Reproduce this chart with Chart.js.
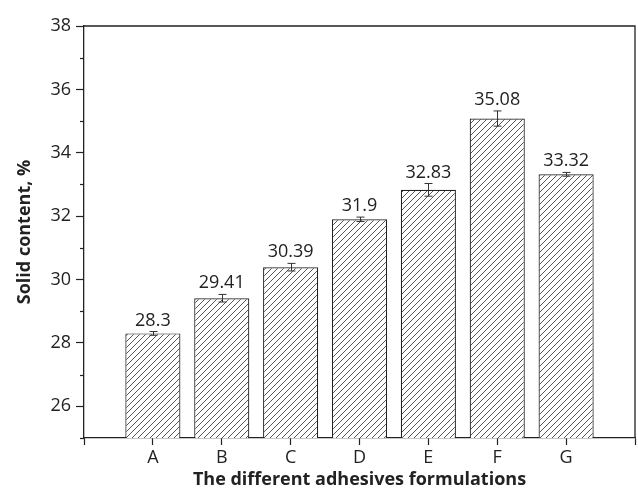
<!DOCTYPE html>
<html>
<head>
<meta charset="utf-8">
<script src="https://cdn.jsdelivr.net/npm/chart.js@4.4.1/dist/chart.umd.min.js"></script>
<style>
  html, body { margin: 0; padding: 0; background: #fff; }
  #wrap { width: 638px; height: 491px; }
</style>
</head>
<body>
<div id="wrap"><canvas id="c" width="638" height="491"></canvas></div>
<script>
// Formulations and their measured solid content (%), with standard deviations
const categories = ['A', 'B', 'C', 'D', 'E', 'F', 'G'];
const solidContent = [28.3, 29.41, 30.39, 31.9, 32.83, 35.08, 33.32];
const stdDev = [0.06, 0.12, 0.12, 0.07, 0.2, 0.24, 0.06];
const yRange = [25, 38];
const yLabelledTicks = [26, 28, 30, 32, 34, 36, 38];

const FONT = '"Open Sans", "DejaVu Sans", sans-serif';
const INK = '#222';

const canvas = document.getElementById('c');
const ctx = canvas.getContext('2d');

// Diagonal "/" hatch fill for the bars
function makeHatch() {
  const s = 6;
  const t = document.createElement('canvas');
  t.width = s; t.height = s;
  const g = t.getContext('2d');
  g.fillStyle = '#fff';
  g.fillRect(0, 0, s, s);
  g.strokeStyle = '#444';
  g.lineWidth = 0.9;
  g.beginPath();
  g.moveTo(-1, s + 1); g.lineTo(s + 1, -1);
  g.moveTo(-1, 1); g.lineTo(1, -1);
  g.moveTo(s - 1, s + 1); g.lineTo(s + 1, s - 1);
  g.stroke();
  return ctx.createPattern(t, 'repeat');
}

const points = categories.map((c, i) => ({ x: i + 1, y: solidContent[i] }));

// Error bars, value labels, minor ticks and the top/right frame
const decorations = {
  id: 'decorations',
  afterDatasetsDraw(chart) {
    const c = chart.ctx;
    const ys = chart.scales.y;
    const meta = chart.getDatasetMeta(0);
    c.save();
    c.strokeStyle = '#333';
    c.lineWidth = 1;
    meta.data.forEach((bar, i) => {
      const v = solidContent[i], e = stdDev[i];
      const x = Math.round(bar.x) + 0.5;
      const yt = ys.getPixelForValue(v + e);
      const yb = ys.getPixelForValue(v - e);
      c.beginPath();
      c.moveTo(x, yt); c.lineTo(x, yb);
      c.moveTo(x - 4, yt); c.lineTo(x + 4, yt);
      c.moveTo(x - 4, yb); c.lineTo(x + 4, yb);
      c.stroke();
      c.fillStyle = INK;
      c.font = '18px ' + FONT;
      c.textAlign = 'center';
      c.textBaseline = 'alphabetic';
      c.fillText(String(v), bar.x, yt - 6);
    });
    c.restore();
  },
  afterDraw(chart) {
    const c = chart.ctx;
    const a = chart.chartArea;
    const ys = chart.scales.y;
    c.save();
    c.strokeStyle = INK;
    c.lineWidth = 1.3;
    c.beginPath();
    c.moveTo(a.left, a.top); c.lineTo(a.right, a.top); c.lineTo(a.right, a.bottom);
    c.stroke();
    // minor ticks at odd values
    c.lineWidth = 1.2;
    for (let v = yRange[0]; v <= yRange[1]; v++) {
      if (yLabelledTicks.includes(v)) continue;
      const y = Math.round(ys.getPixelForValue(v)) + 0.5;
      c.beginPath();
      c.moveTo(a.left - 4, y); c.lineTo(a.left, y);
      c.stroke();
    }
    c.restore();
  }
};

new Chart(canvas, {
  type: 'bar',
  data: {
    datasets: [{
      data: points,
      backgroundColor: makeHatch(),
      borderColor: INK,
      borderWidth: 1.2,
      borderSkipped: false,
      barPercentage: 0.8,
      categoryPercentage: 1
    }]
  },
  options: {
    responsive: false,
    animation: false,
    devicePixelRatio: 1,
    layout: { padding: { top: 26, right: 3, left: 0, bottom: 0 } },
    plugins: { legend: { display: false }, tooltip: { enabled: false } },
    scales: {
      x: {
        type: 'linear',
        offset: false,
        min: 0,
        max: categories.length + 1,
        afterFit(s) { s.height = 53; },
        afterBuildTicks(s) {
          s.ticks = [];
          for (let i = 0; i <= categories.length + 1; i++) s.ticks.push({ value: i });
        },
        ticks: {
          stepSize: 1,
          autoSkip: false,
          maxRotation: 0,
          padding: 2,
          color: INK,
          font: { family: FONT, size: 18 },
          callback: (v) => categories[v - 1] || ''
        },
        grid: { offset: false, drawOnChartArea: false, tickLength: 7, tickColor: INK, tickWidth: 1.2 },
        border: { color: INK, width: 1.3 },
        title: {
          display: true,
          text: 'The different adhesives formulations',
          color: INK,
          font: { family: FONT, size: 18, weight: 'bold' },
          padding: { top: 0, bottom: 0 }
        }
      },
      y: {
        min: yRange[0],
        max: yRange[1],
        afterFit(s) { s.width = 84; },
        afterBuildTicks(s) {
          s.ticks = yLabelledTicks.map(v => ({ value: v }));
        },
        ticks: {
          padding: 5,
          color: INK,
          font: { family: FONT, size: 18 },
          callback: (v) => String(v)
        },
        grid: { drawOnChartArea: false, tickLength: 8, tickColor: INK, tickWidth: 1.2 },
        border: { color: INK, width: 1.3 },
        title: {
          display: true,
          text: 'Solid content, %',
          color: INK,
          font: { family: FONT, size: 18, weight: 'bold' },
          padding: { top: 14, bottom: 0 }
        }
      }
    }
  },
  plugins: [decorations]
});
</script>
</body>
</html>
